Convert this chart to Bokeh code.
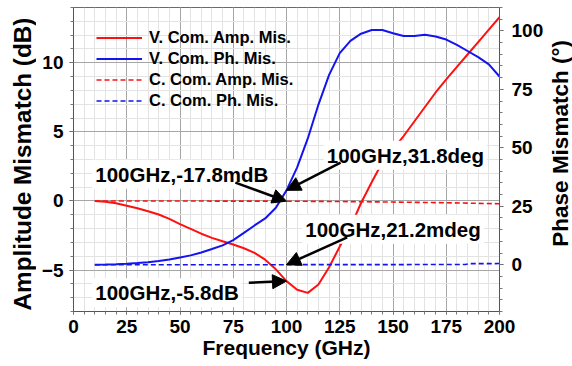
import math
from bokeh.plotting import figure
from bokeh.layouts import row
from bokeh.core.properties import value
from bokeh.models import (Range1d, LinearAxis, FixedTicker, Legend, LegendItem,
                          Label, Arrow, NormalHead)
from bokeh.embed import file_html
from bokeh.resources import INLINE

# ---- data -------------------------------------------------------------
freq_ghz = [10, 15, 20, 25, 30, 35, 40, 45, 50, 55, 60, 65, 70, 75, 80, 85, 90, 95,
            100, 105, 110, 115, 120, 125, 130, 135, 140, 145, 150, 155, 160, 165,
            170, 175, 180, 185, 190, 195, 200]

# voltage-combining: amplitude mismatch (dB) and phase mismatch (deg)
v_amp_db = [0.0, -0.05, -0.17, -0.35, -0.53, -0.74, -0.98, -1.3, -1.68, -2.02,
            -2.37, -2.67, -2.92, -3.15, -3.42, -3.76, -4.25, -4.95, -5.8, -6.42,
            -6.65, -6.05, -4.8, -3.3, -1.9, -0.15, 1.35, 2.8, 3.75, 4.7, 5.75,
            6.8, 7.85, 8.8, 9.7, 10.6, 11.5, 12.4, 13.3]
v_phase_deg = [0.0, 0.1, 0.25, 0.45, 0.7, 1.05, 1.6, 2.2, 3.1, 4.0, 5.2, 6.7,
               8.3, 10.5, 13.6, 16.8, 19.8, 24.4, 31.8, 41.6, 54.0, 68.5, 81.2,
               90.5, 95.7, 98.8, 100.4, 100.4, 99.0, 97.8, 97.8, 98.3, 97.6,
               96.3, 94.0, 91.4, 88.8, 85.7, 80.5]

# current-combining: amplitude mismatch (dB) and phase mismatch (deg)
freq_c_amp = [10, 25, 50, 75, 100, 125, 150, 175, 200]
c_amp_db = [0.0, -0.002, -0.006, -0.011, -0.0178, -0.04, -0.08, -0.13, -0.2]
freq_c_ph = [10, 50, 100, 150, 175, 184, 186, 200]
c_phase_deg = [0.0, 0.01, 0.0212, 0.05, 0.1, 0.12, 0.45, 0.5]

x_ticks = [0, 25, 50, 75, 100, 125, 150, 175, 200]
amp_ticks = [-5, 0, 5, 10]
phase_ticks = [0, 25, 50, 75, 100]

amp_title = "Amplitude Mismatch (dB)"
phase_title = "Phase Mismatch (\u00b0)"

FONT = "Liberation Sans"
RED = "#ff1010"
BLUE = "#1414ee"

# ---- main figure --------------------------------------------------------
p = figure(width=510, height=366, output_backend="svg", toolbar_location=None,
           x_range=Range1d(0, 200), y_range=Range1d(-8, 14),
           min_border_left=37, min_border_right=47, min_border_top=7,
           min_border_bottom=55, background_fill_color="white",
           border_fill_color="white")
p.extra_y_ranges = {"phase": Range1d(-20, 110)}
p.outline_line_color = "#6a6a6a"
p.outline_line_width = 1

x_ticker = FixedTicker(ticks=x_ticks, minor_ticks=list(range(0, 201, 5)))
amp_ticker = FixedTicker(ticks=amp_ticks, minor_ticks=list(range(-8, 15)))
phase_ticker = FixedTicker(ticks=phase_ticks, minor_ticks=list(range(-20, 111, 5)))

p.xaxis.ticker = x_ticker
p.yaxis.ticker = amp_ticker
p.xgrid.ticker = x_ticker
p.ygrid.ticker = amp_ticker

for g in (p.xgrid, p.ygrid):
    g.grid_line_color = "#a6a6a6"
    g.grid_line_width = 1
    g.minor_grid_line_color = "#e3e3e3"
    g.minor_grid_line_width = 1

right_axis = LinearAxis(y_range_name="phase", ticker=phase_ticker)
p.add_layout(right_axis, "right")


def style_axis(ax, tick_standoff, tick_out):
    ax.major_label_text_font = FONT
    ax.major_label_text_font_style = "bold"
    ax.major_label_text_font_size = "19px"
    ax.major_label_text_color = "black"
    ax.major_label_standoff = tick_standoff
    ax.axis_line_color = "#555555"
    ax.major_tick_line_color = "#555555"
    ax.minor_tick_line_color = "#777777"
    ax.major_tick_in = 0
    ax.major_tick_out = tick_out
    ax.minor_tick_in = 0
    ax.minor_tick_out = 3


style_axis(p.xaxis[0], 5, 3)
style_axis(p.yaxis[0], 6, 4)
style_axis(right_axis, 8, 4)

p.xaxis.axis_label = "Frequency (GHz)"
p.xaxis.axis_label_text_font = FONT
p.xaxis.axis_label_text_font_style = "bold"
p.xaxis.axis_label_text_font_size = "21px"
p.xaxis.axis_label_text_color = "black"
p.xaxis.axis_label_standoff = 0

# ---- curves -----------------------------------------------------------
r_vamp = p.line(freq_ghz, v_amp_db, line_color=RED, line_width=2)
r_vph = p.line(freq_ghz, v_phase_deg, line_color=BLUE, line_width=2,
               y_range_name="phase")
r_camp = p.line(freq_c_amp, c_amp_db, line_color=RED, line_width=1.6,
                line_dash="5 3")
r_cph = p.line(freq_c_ph, c_phase_deg, line_color=BLUE, line_width=1.6,
               line_dash="5 3", y_range_name="phase")

legend = Legend(items=[
    LegendItem(label="V. Com. Amp. Mis.", renderers=[r_vamp]),
    LegendItem(label="V. Com. Ph. Mis.", renderers=[r_vph]),
    LegendItem(label="C. Com. Amp. Mis.", renderers=[r_camp]),
    LegendItem(label="C. Com. Ph. Mis.", renderers=[r_cph]),
], location=(13, 190))
legend.label_text_font = FONT
legend.label_text_font_style = "bold"
legend.label_text_font_size = "16.5px"
legend.label_text_color = "black"
legend.glyph_width = 46
legend.glyph_height = 21
legend.label_height = 21
legend.label_standoff = 7
legend.spacing = 0
legend.padding = 10
legend.margin = 0
legend.background_fill_alpha = 0
legend.border_line_alpha = 0
p.add_layout(legend)

# ---- callouts at 100 GHz ------------------------------------------------
callouts = [
    # text, text x (GHz), text baseline (dB)
    ("100GHz,-17.8mdB", 8.8, 1.93),
    ("100GHz,31.8deg", 117.5, 3.31),
    ("100GHz,21.2mdeg", 107.4, -2.05),
    ("100GHz,-5.8dB", 8.8, -6.64),
]
for text, tx, ty in callouts:
    p.add_layout(Label(x=tx, y=ty, text=text, text_font=FONT,
                       text_font_style="bold", text_font_size="20.5px",
                       text_color="black", text_baseline="alphabetic",
                       text_align="left", background_fill_color="white",
                       padding=3))

arrows = [
    # tail (GHz, value), tip (GHz, value), range
    (76.0, 1.33, 100, -0.0178, "default"),
    (125.4, 43.7, 100, 31.8, "phase"),
    (128.5, 11.7, 100, 0.0212, "phase"),
    (82.3, -5.92, 100, -5.8, "default"),
]
for xs, ys, xe, ye, rng in arrows:
    p.add_layout(Arrow(x_start=xs, y_start=ys, x_end=xe, y_end=ye,
                       y_range_name=rng, line_color="black", line_width=2.5,
                       end=NormalHead(size=14, fill_color="black",
                                      line_color="black", line_width=1)))


# ---- vertical axis titles (both read bottom-to-top) ---------------------
def title_strip(width, text, size, x_frac, y_frac):
    s = figure(width=width, height=366, output_backend="svg",
               toolbar_location=None, x_range=Range1d(0, 1),
               y_range=Range1d(0, 1), x_axis_type=None, y_axis_type=None,
               min_border=0, background_fill_color="white",
               border_fill_color="white")
    s.outline_line_color = None
    s.grid.visible = False
    s.text(x=[x_frac], y=[y_frac], text=[text], angle=math.pi / 2,
           text_align="center", text_baseline="middle",
           text_font=value(FONT), text_font_style="bold",
           text_font_size=value(size), text_color="black")
    return s


left_strip = title_strip(36, amp_title, "24.3px", 0.6, 0.485)
right_strip = title_strip(26, phase_title, "22.5px", 0.55, 0.553)

layout = row(left_strip, p, right_strip, spacing=0)

open("out.html", "w").write(file_html(layout, INLINE))
